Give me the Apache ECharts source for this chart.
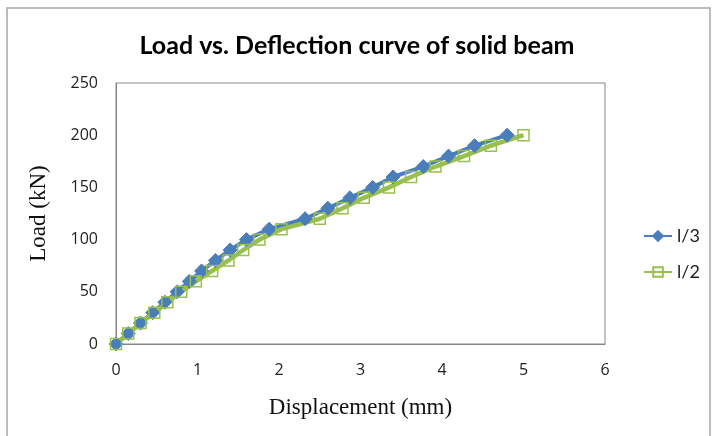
<!DOCTYPE html>
<html>
<head>
<meta charset="utf-8">
<script src="https://cdn.jsdelivr.net/npm/echarts@6/dist/echarts.min.js"></script>
<style>
  html, body { margin: 0; padding: 0; background: #fff; }
  #chart { width: 714px; height: 436px; }
</style>
</head>
<body>
<div id="chart"></div>
<script>
// load steps (kN) shared by both curves
var loads = [0, 10, 20, 30, 40, 50, 60, 70, 80, 90, 100, 110, 120, 130, 140, 150, 160, 170, 180, 190, 200]
// displacement (mm) at each load
var dispL3 = [0, 0.15, 0.3, 0.45, 0.6, 0.75, 0.9, 1.05, 1.22, 1.4, 1.6, 1.88, 2.32, 2.6, 2.87, 3.15, 3.4, 3.77, 4.08, 4.4, 4.8]
var dispL2 = [0, 0.15, 0.3, 0.47, 0.63, 0.8, 0.98, 1.18, 1.38, 1.56, 1.76, 2.03, 2.5, 2.78, 3.04, 3.35, 3.62, 3.92, 4.27, 4.6, 5.0]
var seriesNames = ['l/3', 'l/2']

function pairs(xs, ys) {
  return xs.map(function (x, i) { return [x, ys[i]] })
}

var chart = echarts.init(document.getElementById('chart'))
var option = {
  backgroundColor: '#fff',
  animation: false,
  title: {
    text: 'Load vs. Deflection curve of solid beam',
    left: 'center',
    top: 28,
    textStyle: { fontFamily: 'Lato', fontWeight: 'bold', fontSize: 25, color: '#000' }
  },
  graphic: [
    {
      type: 'rect',
      shape: { x: 7, y: 8, width: 703, height: 440 },
      style: { fill: 'none', stroke: '#a6a6a6', lineWidth: 1.5 }
    }
  ],
  legend: {
    orient: 'vertical',
    left: 638,
    top: 222,
    itemWidth: 28,
    itemHeight: 12,
    itemGap: 18,
    textStyle: { fontFamily: 'Lato', fontSize: 18, color: '#222' },
    data: seriesNames
  },
  grid: {
    left: 116,
    top: 83,
    right: 109,
    bottom: 92,
    show: true,
    borderColor: '#868686',
    borderWidth: 1
  },
  xAxis: {
    type: 'value',
    min: 0,
    max: 6,
    interval: 1,
    name: 'Displacement (mm)',
    nameLocation: 'middle',
    nameGap: 52,
    nameTextStyle: { fontFamily: 'Liberation Serif', fontSize: 23, color: '#111' },
    axisLine: { lineStyle: { color: '#868686' } },
    axisTick: { show: false },
    splitLine: { show: false },
    axisLabel: { margin: 18, fontFamily: 'Open Sans', fontSize: 16, color: '#222' }
  },
  yAxis: {
    type: 'value',
    min: 0,
    max: 250,
    interval: 50,
    name: 'Load (kN)',
    nameLocation: 'middle',
    nameGap: 66,
    nameTextStyle: { fontFamily: 'Liberation Serif', fontSize: 23, color: '#111' },
    axisLine: { show: true, lineStyle: { color: '#868686' } },
    axisTick: { show: false },
    splitLine: { show: false },
    axisLabel: { margin: 18, fontFamily: 'Open Sans', fontSize: 16, color: '#222' }
  },
  series: [
    {
      name: seriesNames[0],
      type: 'line',
      data: pairs(dispL3, loads),
      symbol: 'diamond',
      symbolSize: 14,
      lineStyle: { color: '#4a7ebb', width: 4 },
      itemStyle: { color: '#4a7ebb', borderColor: '#4a7ebb', borderWidth: 1 }
    },
    {
      name: seriesNames[1],
      type: 'line',
      data: pairs(dispL2, loads),
      symbol: 'rect',
      symbolSize: 11,
      lineStyle: { color: '#98bf4f', width: 4.5 },
      itemStyle: { color: 'rgba(255,255,255,0)', borderColor: '#98bf4f', borderWidth: 1.5 }
    }
  ]
}
chart.setOption(option)
</script>
</body>
</html>
